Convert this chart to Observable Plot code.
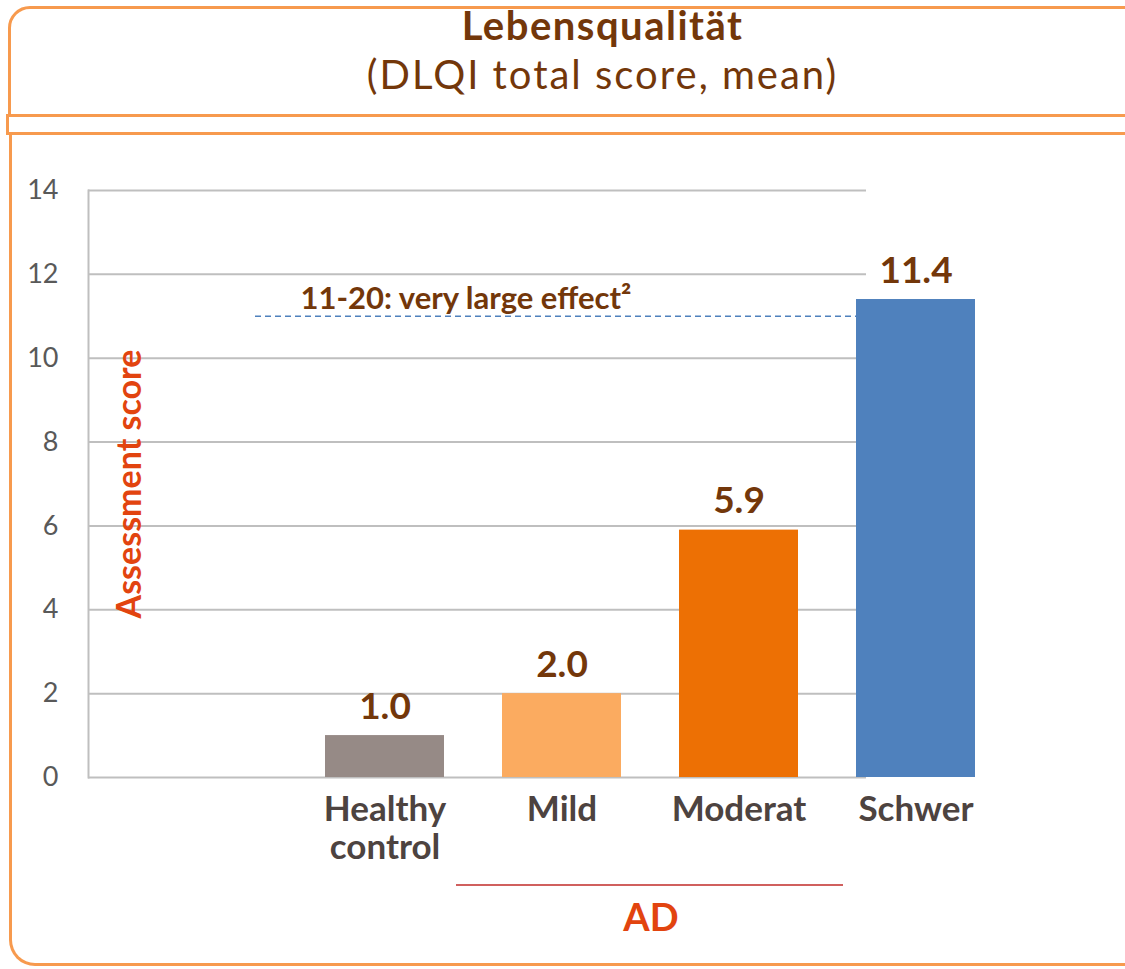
<!DOCTYPE html>
<html>
<head>
<meta charset="utf-8">
<script src="https://cdn.jsdelivr.net/npm/d3@7"></script>
<script src="https://cdn.jsdelivr.net/npm/@observablehq/plot@0.6"></script>
<style>
  html, body { margin: 0; padding: 0; background: #fff; }
  body { width: 1125px; height: 969px; position: relative; overflow: hidden; font-family: Lato, "Open Sans", sans-serif; }
  .box { position: absolute; border: 3px solid #f79a4e; box-sizing: border-box; }
  .title { position: absolute; left: 0; width: 1205px; text-align: center; color: #73370a; font-size: 40px; line-height: 40px; letter-spacing: 2px; white-space: nowrap; }
  #chart { position: absolute; left: 0; top: 0; }
  #adline { position: absolute; left: 456px; width: 387px; top: 884px; height: 0; border-top: 2px solid #d0605e; }
  #ad { position: absolute; left: 561px; width: 180px; top: 893px; text-align: center; color: #e2440f; font-weight: bold; font-size: 38px; }
</style>
</head>
<body>
<div class="box" style="left:8px; top:6px; width:1140px; height:111px; border-radius:22px 0 0 0;"></div>
<div class="box" style="left:6px; top:114px; width:1140px; height:21px;"></div>
<div class="box" style="left:9px; top:132px; width:1140px; height:834px; border-top:none; border-radius:0 0 0 26px;"></div>
<div class="title" style="top:4.5px; font-weight:bold; letter-spacing:1.5px;">Lebensqualität</div>
<div class="title" style="top:53.5px;">(DLQI total score, mean)</div>
<div id="chart"></div>
<div id="adline"></div>
<div id="ad">AD</div>
<script>
const slots = ["", "Healthy control", "Mild", "Moderat", "Schwer"];
const categories = ["Healthy control", "Mild", "Moderat", "Schwer"];
const values = [1.0, 2.0, 5.9, 11.4];
const valueLabels = ["1.0", "2.0", "5.9", "11.4"];
const colors = ["#968a86", "#fbab60", "#ed7004", "#4f81bd"];
const yTicks = [0, 2, 4, 6, 8, 10, 12, 14];
const thresholdValue = [11];
const thresholdLabel = "11-20: very large effect²";
const axisTitle = "Assessment score";

const data = categories.map((c, i) => ({cat: c, value: values[i], label: valueLabels[i], color: colors[i]}));

const chart = Plot.plot({
  width: 1125,
  height: 969,
  marginLeft: 88,
  marginRight: 90,
  marginTop: 190,
  marginBottom: 192,
  style: {fontFamily: "Lato, 'Open Sans', sans-serif", color: "#595959", background: "transparent", overflow: "visible"},
  x: {domain: slots, padding: 0.325, label: null},
  y: {domain: [0, 14], label: null},
  marks: [
    Plot.ruleY(yTicks, {stroke: "#bfbfbf", strokeWidth: 2, insetRight: 169}),
    Plot.frame({anchor: "left", stroke: "#bfbfbf", strokeWidth: 2}),
    Plot.barY(data, {x: "cat", y: "value", fill: "color"}),
    Plot.ruleY(thresholdValue, {stroke: "#4f81bd", strokeWidth: 1.5, strokeDasharray: "6,4", insetLeft: 167, insetRight: 179}),
    Plot.text(thresholdValue, {y: d => d, frameAnchor: "left", dx: 212, dy: -17, text: () => thresholdLabel, textAnchor: "start", fill: "#73370a", fontSize: 31, fontWeight: "bold"}),
    Plot.text(data, {x: "cat", y: "value", text: "label", dy: -17, lineAnchor: "bottom", fill: "#73370a", fontSize: 37, fontWeight: "bold"}),
    Plot.text([axisTitle], {frameAnchor: "left", text: d => d, rotate: -90, dx: 42, textAnchor: "middle", fill: "#e2440f", fontSize: 34, fontWeight: "bold"}),
    Plot.axisY({ticks: yTicks, tickSize: 0, tickPadding: 30, fontSize: 27, fill: "#595959"}),
    Plot.axisX({tickSize: 0, tickPadding: 17, fontSize: 35, fontWeight: "bold", fill: "#4d4340", lineHeight: 1.08,
      tickFormat: d => d === "Healthy control" ? "Healthy\ncontrol" : d})
  ]
});
document.getElementById("chart").appendChild(chart);
</script>
</body>
</html>
